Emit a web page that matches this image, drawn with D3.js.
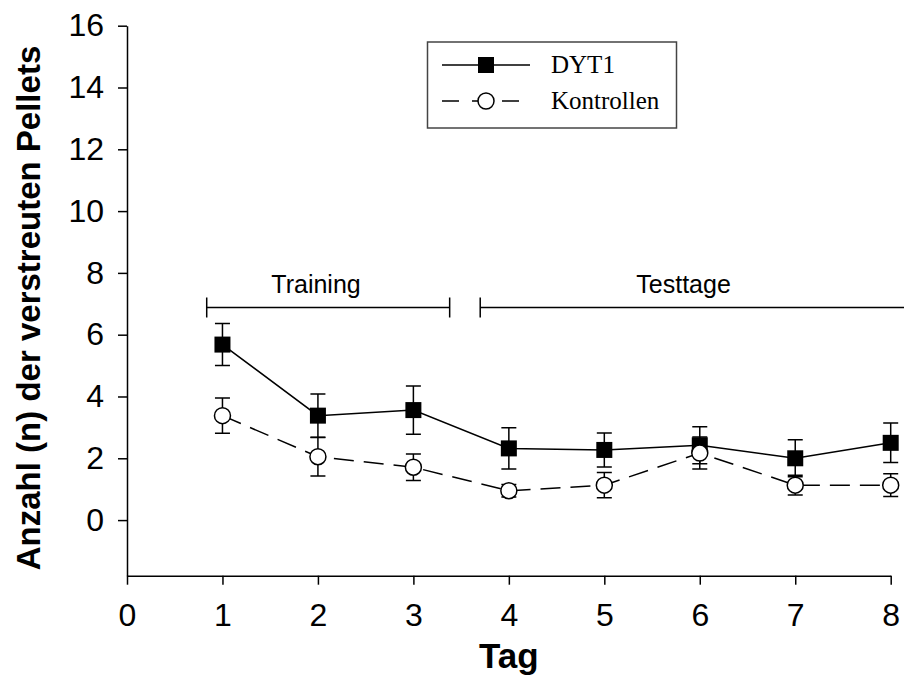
<!DOCTYPE html>
<html>
<head>
    <meta charset="utf-8" />
    <title></title>
    <style>
        body{
            margin:0;
            background:#fff;
        }
        .axis text{
            font-family:"Liberation Sans", Arial, sans-serif;
            font-size:32px;
            fill:#000;
        }
        .axis path, .axis line{
            stroke:#000;
            stroke-width:1.5;
        }
    </style>
</head>
<body>
    <div id="chart"></div>
    <script src="https://cdn.jsdelivr.net/npm/d3@7"></script>

    <script>
        //-------------------------- data --------------------------
        var days = [1, 2, 3, 4, 5, 6, 7, 8];
        var dyt1 = [5.68, 3.38, 3.56, 2.32, 2.27, 2.42, 2.0, 2.5];
        var dyt1Err = [0.68, 0.7, 0.78, 0.67, 0.55, 0.6, 0.6, 0.64];
        var kontrollen = [3.38, 2.05, 1.71, 0.95, 1.13, 2.17, 1.13, 1.13];
        var kontrollenErr = [0.57, 0.62, 0.43, 0.2, 0.41, 0.52, 0.32, 0.37];
        var xTicks = [0, 1, 2, 3, 4, 5, 6, 7, 8];
        var yTicks = [0, 2, 4, 6, 8, 10, 12, 14, 16];
        // phases: name, start day, end day, label position
        var phaseNames = ["Training", "Testtage"];
        var phaseStart = [0.835, 3.7];
        var phaseEnd = [3.38, 8.4];
        var phaseLabelAt = [1.98, 5.83];
        var phaseLevel = 6.88;
        //-------------------------- end --------------------------

        var width = 904, height = 696;

        var svg = d3.select("#chart")
            .append("svg")
            .attr("width", width)
            .attr("height", height);

        var x = d3.scaleLinear().domain([0, 8]).range([127, 890.7]);
        var y = d3.scaleLinear().domain([-1.8, 16]).range([575.7, 25.7]);

        // Axis
        var xAxis = d3.axisBottom(x).tickValues(xTicks).tickFormat(d3.format("d"))
            .tickSizeInner(9).tickSizeOuter(0).tickPadding(19);
        var yAxis = d3.axisLeft(y).tickValues(yTicks).tickFormat(d3.format("d"))
            .tickSizeInner(9).tickSizeOuter(0).tickPadding(14);

        svg.append("g")
            .attr("class", "x axis")
            .attr("transform", "translate(0," + y(-1.8) + ")")
            .call(xAxis);
        svg.append("g")
            .attr("class", "y axis")
            .attr("transform", "translate(" + x(0) + ",0)")
            .call(yAxis);

        // Axis titles
        svg.append("text")
            .attr("x", x(4))
            .attr("y", 668)
            .attr("text-anchor", "middle")
            .style("font-family", "'Liberation Sans', Arial, sans-serif")
            .style("font-weight", "bold")
            .style("font-size", "35px")
            .text("Tag");
        svg.append("text")
            .attr("transform", "translate(40,308) rotate(-90)")
            .attr("text-anchor", "middle")
            .style("font-family", "'Liberation Sans', Arial, sans-serif")
            .style("font-weight", "bold")
            .style("font-size", "33px")
            .text("Anzahl (n) der verstreuten Pellets");

        // Phase brackets
        var phases = phaseNames.map(function (n, i) {
            return { name: n, start: phaseStart[i], end: phaseEnd[i], label: phaseLabelAt[i] };
        });
        var py = y(phaseLevel);
        var pg = svg.append("g").attr("class", "phases")
            .attr("stroke", "#000").attr("stroke-width", 1.5);
        phases.forEach(function (p) {
            pg.append("line")
                .attr("x1", x(p.start)).attr("x2", x(p.end))
                .attr("y1", py).attr("y2", py);
            pg.append("line")
                .attr("x1", x(p.start)).attr("x2", x(p.start))
                .attr("y1", py - 10).attr("y2", py + 10);
            if (p.end <= 8) {
                pg.append("line")
                    .attr("x1", x(p.end)).attr("x2", x(p.end))
                    .attr("y1", py - 10).attr("y2", py + 10);
            }
            svg.append("text")
                .attr("x", x(p.label))
                .attr("y", py - 14)
                .attr("text-anchor", "middle")
                .style("font-family", "'Liberation Sans', Arial, sans-serif")
                .style("font-size", "25px")
                .text(p.name);
        });

        var series = [
            { name: "DYT1", values: dyt1, err: dyt1Err, dash: null, marker: "square" },
            { name: "Kontrollen", values: kontrollen, err: kontrollenErr, dash: "20,10", marker: "circle" }
        ];

        function drawMarker(g, kind, cx, cy) {
            if (kind === "square") {
                g.append("rect")
                    .attr("x", cx - 8).attr("y", cy - 8)
                    .attr("width", 16).attr("height", 16)
                    .attr("fill", "#000");
            } else {
                g.append("circle")
                    .attr("cx", cx).attr("cy", cy).attr("r", 8)
                    .attr("fill", "#fff")
                    .attr("stroke", "#000")
                    .attr("stroke-width", 1.5);
            }
        }

        series.forEach(function (s) {
            var pts = days.map(function (d, i) {
                return { day: d, v: s.values[i], e: s.err[i] };
            });
            var g = svg.append("g").attr("class", "series");

            var linePath = d3.line()
                .x(function (d) { return x(d.day); })
                .y(function (d) { return y(d.v); });
            g.append("path")
                .datum(pts)
                .attr("d", linePath)
                .attr("fill", "none")
                .attr("stroke", "#000")
                .attr("stroke-width", 1.5)
                .attr("stroke-dasharray", s.dash);

            // error bars
            pts.forEach(function (d) {
                var cx = x(d.day), top = y(d.v + d.e), bot = y(d.v - d.e);
                g.append("path")
                    .attr("d", "M" + cx + "," + top + "V" + bot +
                        "M" + (cx - 7.5) + "," + top + "H" + (cx + 7.5) +
                        "M" + (cx - 7.5) + "," + bot + "H" + (cx + 7.5))
                    .attr("fill", "none")
                    .attr("stroke", "#000")
                    .attr("stroke-width", 1.5);
            });
            pts.forEach(function (d) {
                drawMarker(g, s.marker, x(d.day), y(d.v));
            });
        });

        // Legend
        var legend = svg.append("g").attr("class", "legend");
        legend.append("rect")
            .attr("x", 427.5).attr("y", 42)
            .attr("width", 249).attr("height", 86)
            .attr("fill", "#fff")
            .attr("stroke", "#444")
            .attr("stroke-width", 1.5);
        series.forEach(function (s, i) {
            var ly = 65 + i * 36;
            legend.append("line")
                .attr("x1", 442).attr("x2", 530)
                .attr("y1", ly).attr("y2", ly)
                .attr("stroke", "#000")
                .attr("stroke-width", 1.5)
                .attr("stroke-dasharray", s.dash ? "17,13" : null);
            drawMarker(legend, s.marker, 486, ly);
            legend.append("text")
                .attr("x", 551)
                .attr("y", ly + 8)
                .style("font-family", "'Liberation Serif', 'Times New Roman', serif")
                .style("font-size", "25px")
                .text(s.name);
        });
    </script>
</body>
</html>
